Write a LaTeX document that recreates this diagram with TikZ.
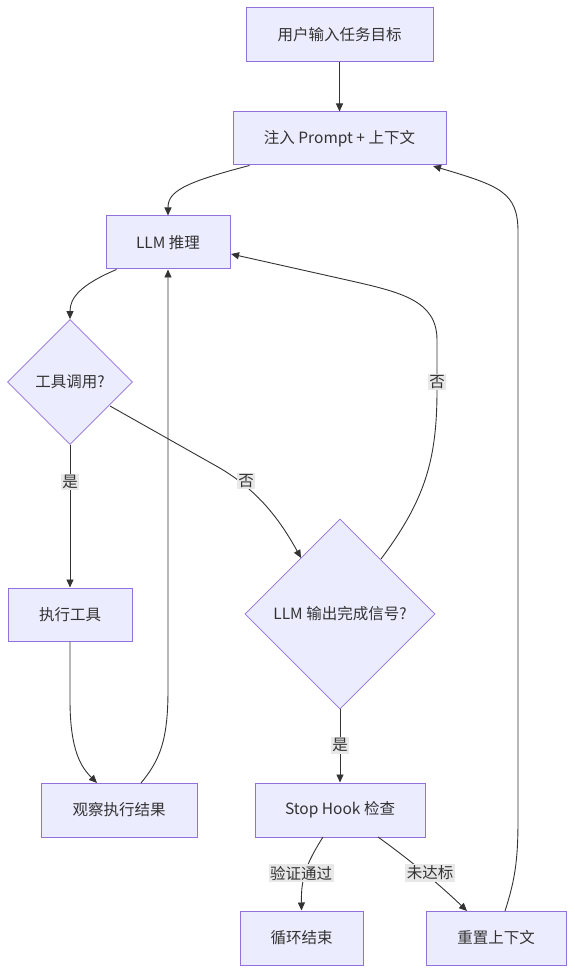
\documentclass[tikz,border=0pt]{standalone}
\usepackage{fontspec}
\setmainfont{Noto Sans CJK SC}
\usetikzlibrary{shapes.geometric,arrows.meta}
\definecolor{nodefill}{HTML}{ECECFF}
\definecolor{nodeline}{HTML}{9370DB}
\definecolor{edgecol}{HTML}{333333}
\definecolor{lblbg}{HTML}{E8E8E8}
\tikzset{
  boxnode/.style={draw=nodeline, fill=nodefill, line width=1pt, rectangle, inner sep=0pt, text=edgecol, font=\fontsize{15.5}{18}\selectfont},
  decnode/.style={draw=nodeline, fill=nodefill, line width=0.8pt, diamond, aspect=1, inner sep=0pt, text=edgecol, font=\fontsize{15.5}{18}\selectfont},
  conn/.style={draw=edgecol, line width=0.9pt, -{Triangle[length=8pt,width=7pt]}},
  lbl/.style={fill=lblbg, inner sep=1.5pt, text=edgecol, font=\fontsize{15.5}{18}\selectfont}
}
\begin{document}
\begin{tikzpicture}[x=1pt,y=-1pt]
\useasboundingbox (0,0) rectangle (574,973);
\fill[white] (0,0) rectangle (574,973);
\node[boxnode, minimum width=187pt, minimum height=54pt] (input) at (339.5,35) {用户输入任务目标};
\node[boxnode, minimum width=213pt, minimum height=53pt] (inject) at (339.5,138.5) {注入 Prompt + 上下文};
\node[boxnode, minimum width=124pt, minimum height=53pt] (llm) at (168,242.5) {LLM 推理};
\node[decnode, minimum width=125pt, minimum height=125pt] (tool) at (70,382) {工具调用?};
\node[boxnode, minimum width=124pt, minimum height=53pt] (exec) at (70,614.5) {执行工具};
\node[boxnode, minimum width=156pt, minimum height=54pt] (obs) at (119,810) {观察执行结果};
\node[decnode, minimum width=190pt, minimum height=190pt] (done) at (340,614) {LLM 输出完成信号?};
\node[boxnode, minimum width=170pt, minimum height=54pt] (hook) at (340,810) {Stop Hook 检查};
\node[boxnode, minimum width=123pt, minimum height=54pt] (endn) at (301.5,938) {循环结束};
\node[boxnode, minimum width=140pt, minimum height=54pt] (reset) at (496,938) {重置上下文};

\draw[conn] (input.south) -- (inject.north);
\draw[conn] (inject.south west) ++(17,0) .. controls (182,183) and (168,192) .. (llm.north);
\draw[conn] (llm.south west) ++(11,0) .. controls (80,285) and (70,298) .. (tool.north);
\draw[conn] (tool.south) -- node[lbl, pos=0.26] {是} (exec.north);
\coordinate (d2in) at (301,558);
\draw[conn] (110,406) -- (218,467) .. controls (258,490) and (280,520) .. (d2in);
\node[lbl] (no1) at (246,481) {否};
\draw[conn] (exec.south) -- (70,700) .. controls (70,752) and (82,768) .. (97,783);
\draw[conn] (141,783) .. controls (160,760) and (168,740) .. (168,690) -- (llm.south);
\draw[conn] (381,559) .. controls (425,500) and (437,460) .. (437,390) -- (437,340) .. controls (437,300) and (400,292) .. (347,280) -- (231,254);
\node[lbl] (no2) at (437,382) {否};
\draw[conn] (done.south) -- node[lbl, pos=0.49] {是} (hook.north);
\draw[conn] (323,837) .. controls (306,864) and (301,878) .. (endn.north);
\node[lbl] (pass) at (301,873) {验证通过};
\draw[conn] (378,837) .. controls (410,860) and (440,885) .. (467,911);
\node[lbl] (fail) at (430,873) {未达标};
\draw[conn] (505,911) .. controls (515,880) and (518,860) .. (518,820) -- (518,232) .. controls (518,192) and (500,186) .. (433,166);
\end{tikzpicture}
\end{document}
